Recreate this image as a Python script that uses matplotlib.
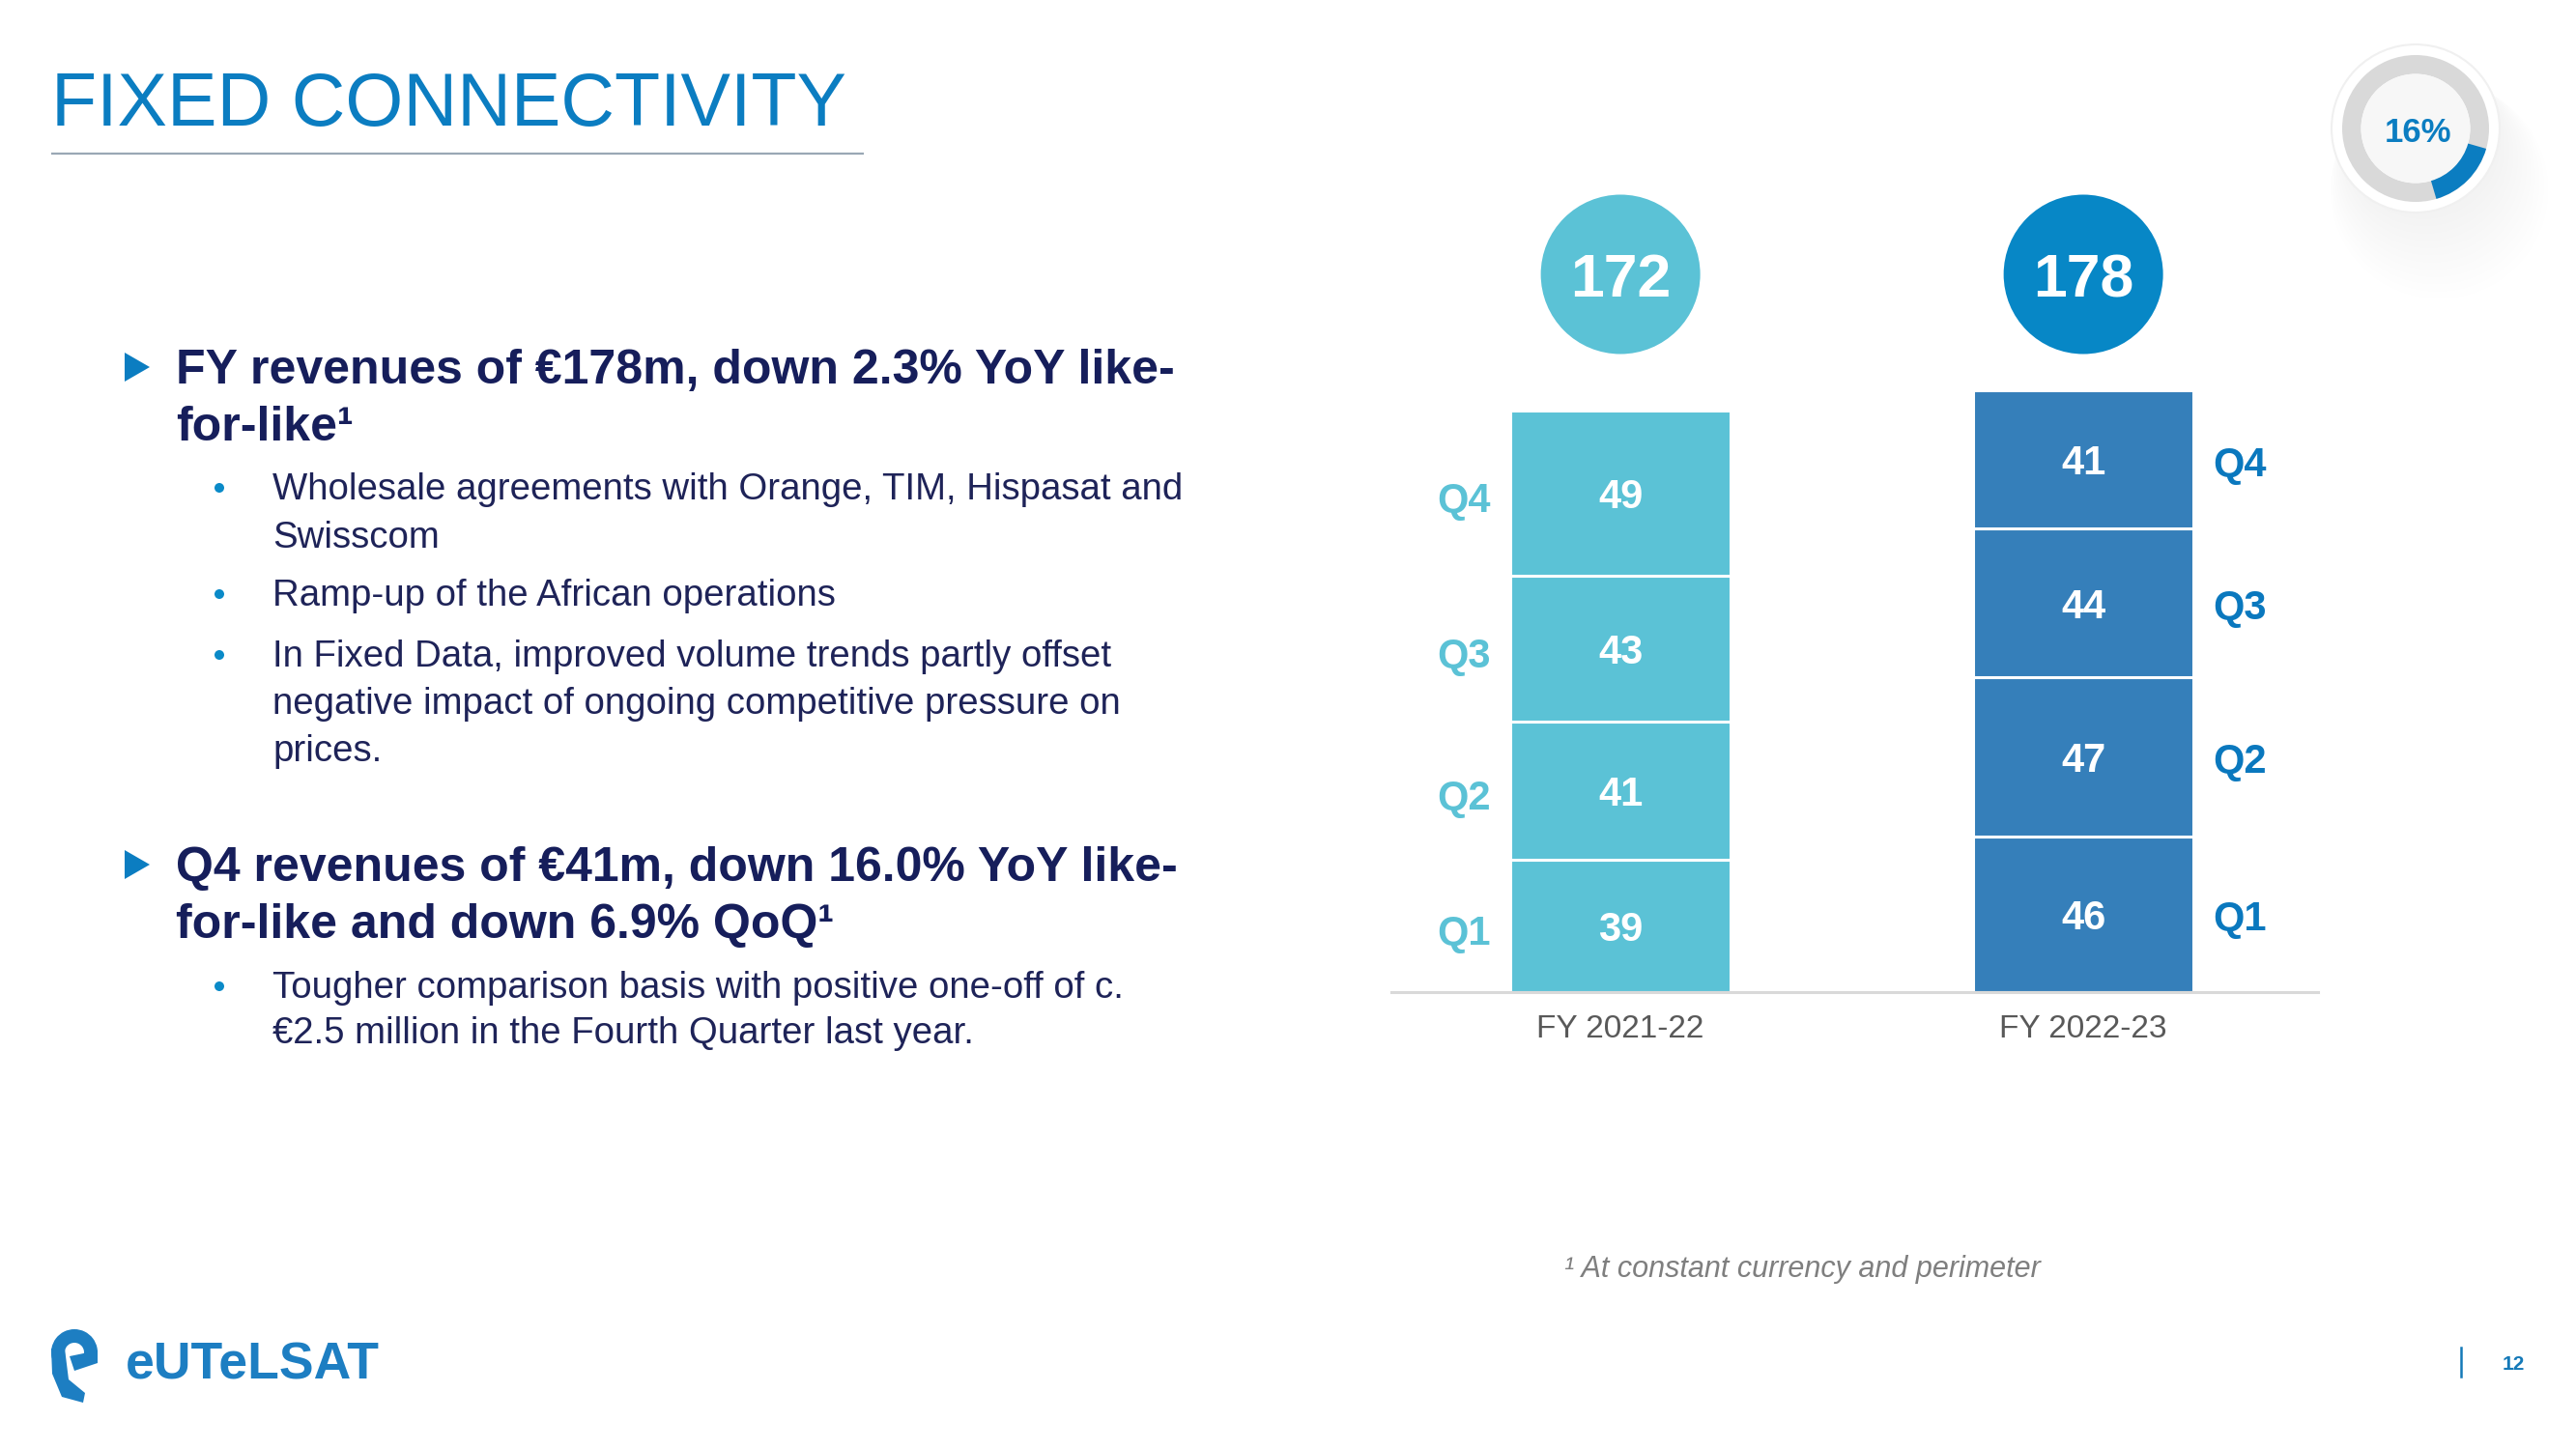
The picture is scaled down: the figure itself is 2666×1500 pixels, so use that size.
import matplotlib
matplotlib.use("Agg")
import matplotlib.pyplot as plt
from matplotlib.patches import Circle, Wedge, Polygon

# ---------------- data ----------------
years = ["FY 2021-22", "FY 2022-23"]
quarters = ["Q1", "Q2", "Q3", "Q4"]
rev_fy2122 = [39, 41, 43, 49]
rev_fy2223 = [46, 47, 44, 41]
share_pct = 16

title = "FIXED CONNECTIVITY"
headline1 = ["FY revenues of €178m, down 2.3% YoY like-", "for-like¹"]
bullets1 = [["Wholesale agreements with Orange, TIM, Hispasat and", "Swisscom"],
            ["Ramp-up of the African operations"],
            ["In Fixed Data, improved volume trends partly offset",
             "negative impact of ongoing competitive pressure on", "prices."]]
headline2 = ["Q4 revenues of €41m, down 16.0% YoY like-", "for-like and down 6.9% QoQ¹"]
bullets2 = [["Tougher comparison basis with positive one-off of c.",
             "€2.5 million in the Fourth Quarter last year."]]
footnote = "¹ At constant currency and perimeter"
page_no = "12"

# ---------------- style ----------------
W, H, DPI = 2666, 1500, 100
PT = 72.0 / DPI
FONT = "Liberation Sans"
plt.rcParams["font.family"] = [FONT, "DejaVu Sans"]

BLUE = "#0B7DC1"
NAVY = "#161E5B"
TXT = "#1E2358"
DOT = "#0A8AC8"
CYAN = "#5BC2D6"
STEEL = "#357FBA"
CIRC2 = "#0787C6"
QCOL2 = "#0A78BE"
bar_colors = [CYAN, STEEL]
circle_colors = [CYAN, CIRC2]
q_colors = [CYAN, QCOL2]

fig = plt.figure(figsize=(W / DPI, H / DPI), dpi=DPI)
fig.patch.set_facecolor("white")

# background / slide layer in pixel coordinates
bg = fig.add_axes([0, 0, 1, 1])
bg.set_xlim(0, W)
bg.set_ylim(H, 0)
bg.axis("off")

# title
bg.text(53, 130, title, fontsize=55.5, color=BLUE, va="baseline", ha="left")
bg.plot([53, 894], [159, 159], color="#9AA8B5", lw=1.6, solid_capstyle="butt")

# headlines and bullets
def headline(lines, y0, arrow_y):
    bg.add_patch(Polygon([(129, arrow_y - 15), (129, arrow_y + 15), (155, arrow_y)],
                         closed=True, color=BLUE, lw=0))
    for k, line in enumerate(lines):
        bg.text(182, y0 + k * 59, line, fontsize=36, fontweight="bold",
                color=NAVY, va="baseline", ha="left")

def bullet_block(blocks, baselines):
    i = 0
    for block in blocks:
        for k, line in enumerate(block):
            y = baselines[i]
            if k == 0:
                bg.add_patch(Circle((227, y - 12), 5, color=DOT, lw=0))
            bg.text(282, y, line, fontsize=27.6, color=TXT, va="baseline", ha="left")
            i += 1

headline(headline1, 397, 380)
bullet_block(bullets1, [517, 567, 627, 690, 739, 788])
headline(headline2, 912, 895)
bullet_block(bullets2, [1033, 1080])

# footnote
bg.text(1619, 1322, footnote, fontsize=22, style="italic", color="#7F7F7F",
        va="baseline", ha="left")

# page number
bg.plot([2547, 2547], [1395, 1425], color="#1479B8", lw=1.8)
bg.text(2601, 1411, page_no, fontsize=15, fontweight="bold", color="#1479B8",
        ha="center", va="center_baseline")

# logo
LOGO = "#1D7EC2"
bg.add_patch(Wedge((77, 1400), 24, 165, 15, width=14, color=LOGO, lw=0))
bg.add_patch(Polygon([(53, 1396), (67, 1396), (71, 1428), (88, 1442), (86, 1452),
                      (64, 1446), (54, 1422)], closed=True, color=LOGO, lw=0))
bg.add_patch(Polygon([(72, 1404), (101, 1398), (101, 1411), (77, 1419)],
                     closed=True, color=LOGO, lw=0))
bg.text(130, 1427, "eUTeLSAT", fontsize=38.5, fontweight="bold", color=LOGO,
        va="baseline", ha="left")

# donut badge
cx, cy = 2500, 133
for k in range(12):
    bg.add_patch(Circle((cx + 8 + k * 1.5, cy + 14 + k * 4.5), 80 + k * 3.0,
                        color="black", alpha=0.0035, lw=0))
bg.add_patch(Circle((cx, cy), 87, facecolor="white", edgecolor="#F0F0F0", lw=1.5))
bg.add_patch(Wedge((cx, cy), 76, 0, 360, width=19.5, color="#D9D9D9", lw=0))
bg.add_patch(Circle((cx, cy), 56.5, color="#F7F7F7", lw=0))
start = 16
bg.add_patch(Wedge((cx, cy), 76, start, start + share_pct / 100 * 360, width=19.5,
                   color=BLUE, lw=0))
bg.text(cx + 3, cy + 1, f"{share_pct}%", fontsize=25, fontweight="bold", color=BLUE,
        ha="center", va="center_baseline")

# ---------------- bar chart ----------------
px_per_unit = 3.497
ax_left, ax_right = 1440, 2399
ax_base, ax_top = 1026.5, 222
ax = fig.add_axes([ax_left / W, (H - ax_base) / H,
                   (ax_right - ax_left) / W, (ax_base - ax_top) / H])
ax.patch.set_alpha(0)
ax.set_xlim(-0.495, 1.507)
ax.set_ylim(0, (ax_base - ax_top) / px_per_unit)

bar_w = 0.476
series = [rev_fy2122, rev_fy2223]
for i, vals in enumerate(series):
    bottom = 0
    for q, v in zip(quarters, vals):
        ax.bar(i, v, bottom=bottom, width=bar_w, color=bar_colors[i],
               edgecolor="white", linewidth=2.2, zorder=2)
        mid = bottom + v / 2
        ax.text(i, mid, f"{v}", ha="center", va="center_baseline", color="white",
                fontsize=30, fontweight="bold", zorder=3)
        if i == 0:
            ax.annotate(q, xy=(i - bar_w / 2, mid), xytext=(-20 * PT, -3),
                        textcoords="offset points", ha="right", va="center_baseline",
                        fontsize=30, fontweight="bold", color=q_colors[i])
        else:
            ax.annotate(q, xy=(i + bar_w / 2, mid), xytext=(20 * PT, -1),
                        textcoords="offset points", ha="left", va="center_baseline",
                        fontsize=30, fontweight="bold", color=q_colors[i])
        bottom += v

# totals in circles
total_level = (ax_base - 284) / px_per_unit
totals = [sum(s) for s in series]
ax.scatter(range(len(series)), [total_level] * len(series), s=(165 * PT) ** 2,
           c=circle_colors, linewidths=0, zorder=2, clip_on=False)
for i, t in enumerate(totals):
    ax.text(i, total_level, f"{t}", ha="center", va="center_baseline", color="white",
            fontsize=45, fontweight="bold", zorder=3)

ax.set_xticks(range(len(years)))
ax.set_xticklabels(years, fontsize=24, color="#595959")
ax.tick_params(axis="x", length=0, pad=17)
ax.set_yticks([])
for s in ["top", "left", "right"]:
    ax.spines[s].set_visible(False)
ax.spines["bottom"].set_color("#D9D9D9")
ax.spines["bottom"].set_linewidth(2.2)
ax.spines["bottom"].set_zorder(4)

fig.savefig("out.png", dpi=DPI, facecolor="white")
